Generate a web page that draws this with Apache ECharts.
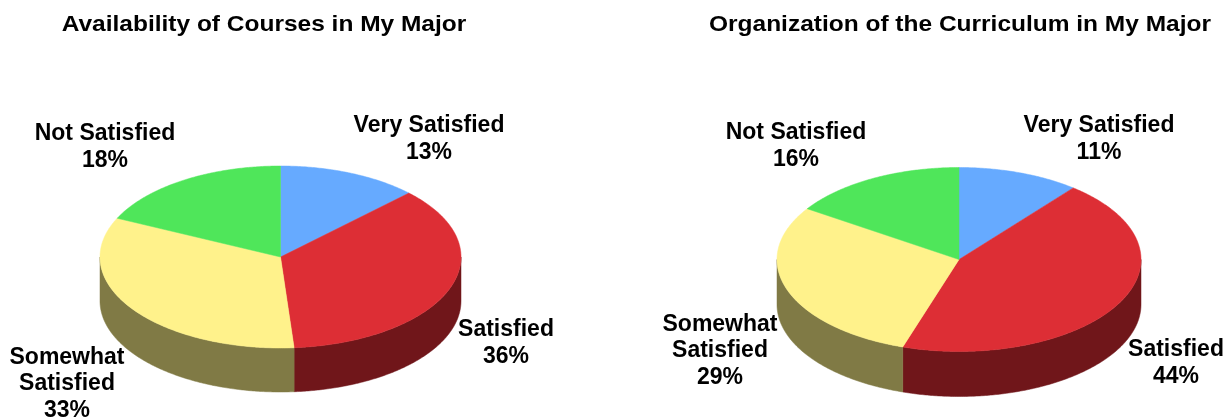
<!DOCTYPE html>
<html>
<head>
<meta charset="utf-8">
<style>html,body{margin:0;padding:0;background:#fff}#chart{width:1227px;height:417px}</style>
<script src="https://cdn.jsdelivr.net/npm/echarts@6/dist/echarts.min.js"></script>
</head>
<body>
<div id="chart"></div>
<script>
const categories = ['Very Satisfied', 'Satisfied', 'Somewhat Satisfied', 'Not Satisfied'];
const availabilityValues = [12.6, 36.2, 33.2, 18];
const organizationValues = [10.8, 44.2, 29.3, 15.7];
const chartTitles = ['Availability of Courses in My Major', 'Organization of the Curriculum in My Major'];

const topColors = ['#66AAFF', '#DD2E35', '#FFF28B', '#4FE65A'];
const sideColors = ['#33557F', '#70161A', '#807A45', '#27732D'];
const FAMILY = '"Liberation Sans", Arial, sans-serif';
const LABEL_FONT = 'bold 23px ' + FAMILY;
const TITLE_FONT = 'bold 22px ' + FAMILY;
const LINE = 26.5;

const layouts = [
  { cx: 280.5, cy: 257, rx: 180.5, ry: 91, depth: 44,
    titleX: 264, titleScale: 1.113,
    labelPos: [[429, 139], [506, 343], [67, 384], [105, 147]] },
  { cx: 959, cy: 259.5, rx: 182, ry: 92, depth: 45,
    titleX: 960, titleScale: 1.113,
    labelPos: [[1099, 139], [1176, 363], [720, 351], [796, 146]] }
];
const labelLines = [['Very Satisfied'], ['Satisfied'], ['Somewhat', 'Satisfied'], ['Not Satisfied']];

function rim(L, a, drop) {
  return [L.cx + L.rx * Math.sin(a), L.cy - L.ry * Math.cos(a) + (drop || 0)];
}
function arc(L, a0, a1, drop) {
  const pts = [], n = Math.max(2, Math.ceil(Math.abs(a1 - a0) / 0.01));
  for (let i = 0; i <= n; i++) pts.push(rim(L, a0 + (a1 - a0) * i / n, drop));
  return pts;
}
function makeSeries(values, L) {
  const total = values.reduce((s, v) => s + v, 0);
  return {
    type: 'custom',
    coordinateSystem: 'none',
    silent: true,
    animation: false,
    data: values.map((v, i) => ({ name: categories[i], value: [v] })),
    renderItem(params, api) {
      const i = params.dataIndex;
      let before = 0;
      for (let k = 0; k < i; k++) before += values[k];
      const a0 = before / total * 2 * Math.PI;
      const a1 = (before + api.value(0)) / total * 2 * Math.PI;
      const children = [];
      // visible outer wall: the front half of the ellipse (90 to 270 degrees)
      const s0 = Math.max(a0, Math.PI / 2), s1 = Math.min(a1, 1.5 * Math.PI);
      if (s1 > s0) {
        const pts = arc(L, s0, s1, 0).concat(arc(L, s1, s0, L.depth));
        children.push({ type: 'polygon', z2: 1, shape: { points: pts },
          style: { fill: sideColors[i], stroke: sideColors[i], lineWidth: 0.5 } });
      }
      children.push({ type: 'polygon', z2: 2,
        shape: { points: [[L.cx, L.cy]].concat(arc(L, a0, a1, 0)) },
        style: { fill: topColors[i], stroke: topColors[i], lineWidth: 0.5 } });
      const lines = labelLines[i].concat([Math.round(api.value(0)) + '%']);
      children.push({ type: 'text', z2: 10,
        x: L.labelPos[i][0], y: L.labelPos[i][1],
        style: { text: lines.join('\n'), font: LABEL_FONT, lineHeight: LINE, fill: '#000',
          align: 'center', verticalAlign: 'middle' } });
      return { type: 'group', children };
    }
  };
}
const chart = echarts.init(document.getElementById('chart'), null, { renderer: 'canvas' });
chart.setOption({
  backgroundColor: '#fff',
  animation: false,
  graphic: chartTitles.map((t, i) => ({
    type: 'text', silent: true,
    x: layouts[i].titleX, y: 25, scaleX: layouts[i].titleScale,
    style: { text: t, font: TITLE_FONT, fill: '#000', align: 'center', verticalAlign: 'middle' }
  })),
  series: [makeSeries(availabilityValues, layouts[0]), makeSeries(organizationValues, layouts[1])]
});
</script>
</body>
</html>
